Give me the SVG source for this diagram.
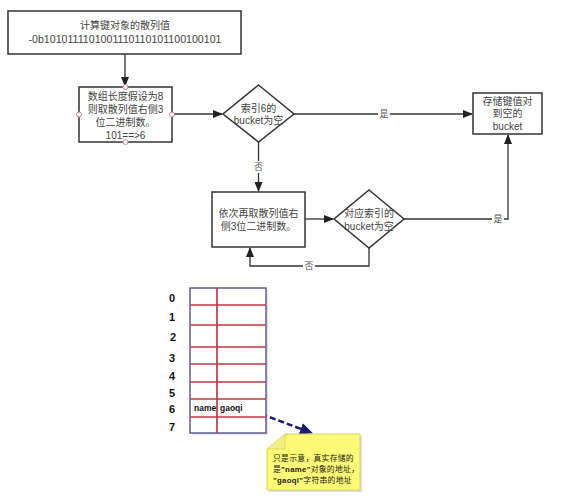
<svg xmlns="http://www.w3.org/2000/svg" width="566" height="498" viewBox="0 0 566 498">
<style>
.box{fill:#fff;stroke:#333;stroke-width:1.5}
.t{font-family:"Liberation Sans","Noto Sans CJK SC",sans-serif;font-size:10px;fill:#444;text-anchor:middle}
.lbl{font-family:"Noto Sans CJK SC",sans-serif;font-size:9px;fill:#555;text-anchor:middle}
.ln{fill:none;stroke:#333;stroke-width:1.3}
.pt{fill:#fff;stroke:#c88;stroke-width:1}
.red{stroke:#c0393f;stroke-width:1.7}
.num{font-family:"Liberation Sans",Arial,sans-serif;font-size:11px;font-weight:bold;fill:#111;text-anchor:middle}
.cell{font-family:"Liberation Sans",Arial,sans-serif;font-size:8.5px;font-weight:bold;fill:#111}
.note{font-family:"Noto Sans CJK SC",sans-serif;font-size:7.8px;fill:#222;letter-spacing:0.3px}
</style>
<defs>
<marker id="ah" markerWidth="10" markerHeight="8" refX="9" refY="4" orient="auto" markerUnits="userSpaceOnUse">
<path d="M0,0 L10,4 L0,8 z" fill="#222"/>
</marker>
<marker id="bh" markerWidth="14" markerHeight="12" refX="12" refY="6" orient="auto" markerUnits="userSpaceOnUse">
<path d="M0,0 L13,6 L0,12 z" fill="#1a1a7a"/>
</marker>
</defs>
<g id="connectors">
<line class="ln" x1="125" y1="54" x2="125" y2="86" marker-end="url(#ah)"/>
<line class="ln" x1="172" y1="114" x2="222" y2="114" marker-end="url(#ah)"/>
<line class="ln" x1="294" y1="114" x2="472" y2="114" marker-end="url(#ah)"/>
<rect x="378" y="108" width="12" height="12" fill="#fff"/>
<text class="lbl" x="384" y="117">是</text>
<line class="ln" x1="258.5" y1="142" x2="258.5" y2="191" marker-end="url(#ah)"/>
<rect x="252" y="161" width="13" height="12" fill="#fff"/>
<text class="lbl" x="258.5" y="170">否</text>
<line class="ln" x1="305" y1="219" x2="333" y2="219" marker-end="url(#ah)"/>
<polyline class="ln" points="404,219 508,219 508,135" marker-end="url(#ah)"/>
<rect x="492" y="213" width="12" height="12" fill="#fff"/>
<text class="lbl" x="498" y="222">是</text>
<polyline class="ln" points="369,248 369,266 250,266 250,248" marker-end="url(#ah)"/>
<rect x="303" y="260" width="12" height="12" fill="#fff"/>
<text class="lbl" x="309" y="269">否</text>
<line x1="253" y1="411" x2="312" y2="433" stroke="#1a1a7a" stroke-width="2.5" stroke-dasharray="6,3" marker-end="url(#bh)"/>
</g>
<g id="n1">
<rect class="box" x="8" y="11" width="233" height="43"/>
<text class="t" x="125" y="29" font-size="10.5">计算键对象的散列值</text>
<text class="t" x="125" y="43" font-size="10.5" textLength="193" lengthAdjust="spacingAndGlyphs">-0b1010111101001110110101100100101</text>
</g>
<g id="n2">
<rect class="box" x="79" y="87" width="93" height="55"/>
<text class="t" x="125.5" y="100">数组长度假设为8</text>
<text class="t" x="125.5" y="113">则取散列值右侧3</text>
<text class="t" x="125.5" y="126">位二进制数。</text>
<text class="t" x="125.5" y="139">101==&gt;6</text>
<circle class="pt" cx="125.5" cy="87" r="2.5"/>
<circle class="pt" cx="79" cy="114.5" r="2.5"/>
<circle class="pt" cx="172" cy="114.5" r="2.5"/>
<circle class="pt" cx="125.5" cy="142" r="2.5"/>
</g>
<g id="d1">
<polygon class="box" points="258.5,85 294,114 258.5,142 223,114"/>
<text class="t" x="258.5" y="112">索引6的</text>
<text class="t" x="258.5" y="124">bucket为空</text>
</g>
<g id="n3">
<rect class="box" x="473" y="93" width="69" height="41"/>
<text class="t" x="507.5" y="105">存储键值对</text>
<text class="t" x="507.5" y="117">到空的</text>
<text class="t" x="507.5" y="130">bucket</text>
</g>
<g id="n4">
<rect class="box" x="212" y="192" width="93" height="55"/>
<text class="t" x="258.5" y="217">依次再取散列值右</text>
<text class="t" x="258.5" y="230">侧3位二进制数。</text>
</g>
<g id="d2">
<polygon class="box" points="369,190 404,219 369,248 334,219"/>
<text class="t" x="369" y="217">对应索引的</text>
<text class="t" x="369" y="230">bucket为空</text>
</g>
<g id="table">
<rect x="192" y="290" width="76" height="145" fill="#c8c8d8" opacity="0.5"/>
<rect x="190" y="288" width="76" height="145" fill="#fff" stroke="#3a3a7a" stroke-width="1.2"/>
<line class="red" x1="190" y1="305" x2="266" y2="305"/>
<line class="red" x1="190" y1="325" x2="266" y2="325"/>
<line class="red" x1="190" y1="347" x2="266" y2="347"/>
<line class="red" x1="190" y1="364" x2="266" y2="364"/>
<line class="red" x1="190" y1="382" x2="266" y2="382"/>
<line class="red" x1="190" y1="399" x2="266" y2="399"/>
<line class="red" x1="190" y1="417" x2="266" y2="417"/>
<line class="red" x1="217" y1="288" x2="217" y2="433"/>
<text class="cell" x="194" y="411">name</text>
<text class="cell" x="220" y="411">gaoqi</text>
</g>
<g id="indices">
<text class="num" x="172" y="302">0</text>
<text class="num" x="172" y="321">1</text>
<text class="num" x="173" y="341">2</text>
<text class="num" x="172" y="362">3</text>
<text class="num" x="172" y="380">4</text>
<text class="num" x="172" y="397">5</text>
<text class="num" x="172" y="413">6</text>
<text class="num" x="172" y="431">7</text>
</g>
<g id="note">
<path d="M269,451 L287,436 L362,436 L362,492 L269,492 z" fill="#bbb" opacity="0.5"/>
<path d="M267,449 L285,434 L360,434 L360,490 L267,490 z" fill="#fdfa75" stroke="#d8d060" stroke-width="1"/>
<path d="M267,449 L285,449 L285,434" fill="#f4ee8a" stroke="#d8d060" stroke-width="0.8"/>
<text class="note" x="273" y="461">只是示意，真实存储的</text>
<text class="note" x="273" y="472">是<tspan font-family="Liberation Sans" font-weight="bold">"name"</tspan>对象的地址，</text>
<text class="note" x="273" y="483"><tspan font-family="Liberation Sans" font-weight="bold">"gaoqi"</tspan>字符串的地址</text>
</g>
</svg>
